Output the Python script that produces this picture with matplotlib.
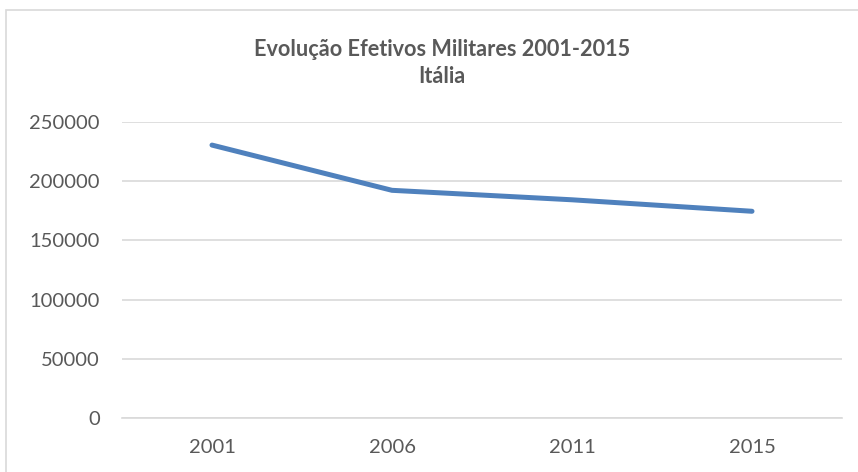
import matplotlib
matplotlib.use("Agg")
import matplotlib.pyplot as plt
from matplotlib.patches import Rectangle

years = ["2001", "2006", "2011", "2015"]
values = [230500, 192300, 184300, 174600]
yticks = [0, 50000, 100000, 150000, 200000, 250000]
title = "Evolução Efetivos Militares 2001-2015\nItália"

W, H = 858, 472
fig = plt.figure(figsize=(W / 100, H / 100), dpi=100)
fig.patch.set_facecolor("white")

fig.patches.append(Rectangle((6 / W, -0.1), 1.2, (H - 10) / H + 0.1,
                             transform=fig.transFigure, fill=False,
                             edgecolor="#d9d9d9", linewidth=1.2))

ax = fig.add_axes([122 / W, (H - 418) / H, 720 / W, 296 / H])
x = list(range(len(years)))
ax.plot(x, values, color="#4F81BD", linewidth=3.6, solid_capstyle="round",
        solid_joinstyle="round")
ax.set_xlim(-0.5, len(years) - 0.5)
ax.set_ylim(0, 250000)
ax.set_yticks(yticks)
ax.set_yticklabels([str(v) for v in yticks])
ax.set_xticks(x)
ax.set_xticklabels(years)
ax.grid(axis="y", color="#d9d9d9", linewidth=1.2)
ax.set_axisbelow(True)
for s in ["top", "right", "left"]:
    ax.spines[s].set_visible(False)
ax.spines["bottom"].set_color("#d9d9d9")
ax.spines["bottom"].set_linewidth(1.2)
ax.tick_params(axis="both", length=0, colors="#595959", labelsize=14.5)
ax.tick_params(axis="y", pad=16)
ax.tick_params(axis="x", pad=15)
for lab in ax.get_xticklabels() + ax.get_yticklabels():
    lab.set_family("Lato")

fig.text(442 / W, 1 - 63 / H, title, ha="center", va="center",
         fontsize=15.6, fontweight="bold", color="#595959", family="Lato",
         linespacing=1.3)

fig.savefig("out.png", dpi=100)
